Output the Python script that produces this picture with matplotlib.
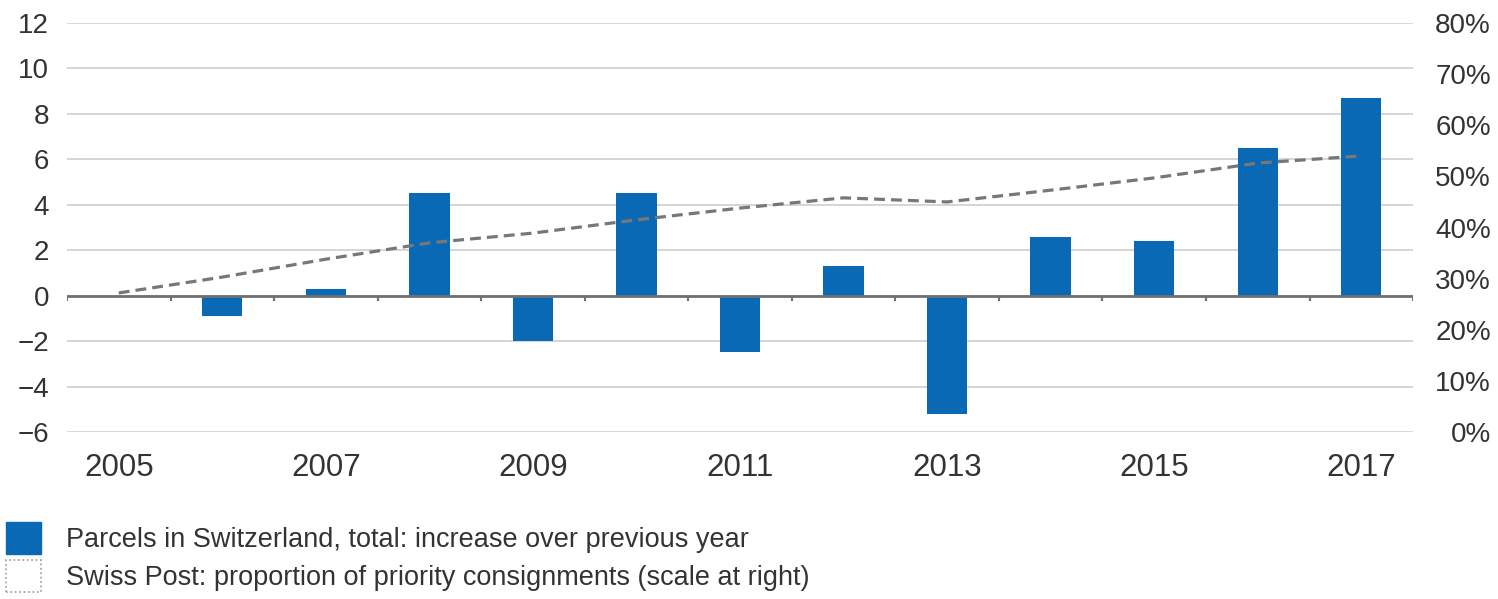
import matplotlib.pyplot as plt
from matplotlib.patches import Patch

years = [2005, 2006, 2007, 2008, 2009, 2010, 2011, 2012, 2013, 2014, 2015, 2016, 2017]
parcel_growth = [0.0, -0.9, 0.3, 4.5, -2.0, 4.5, -2.5, 1.3, -5.2, 2.6, 2.4, 6.5, 8.7]
priority_share = [27.2, 30.3, 33.8, 37.0, 38.9, 41.5, 43.8, 45.8, 45.0, 47.3, 49.7, 52.6, 54.0]
year_labels = [2005, 2007, 2009, 2011, 2013, 2015, 2017]
left_ticks = [-6, -4, -2, 0, 2, 4, 6, 8, 10, 12]
right_ticks = [0, 10, 20, 30, 40, 50, 60, 70, 80]

bar_label = 'Parcels in Switzerland, total: increase over previous year'
line_label = 'Swiss Post: proportion of priority consignments (scale at right)'

plt.rcParams['font.family'] = ['Liberation Sans', 'DejaVu Sans']
text_color = '#333333'
blue = '#0a69b5'

fig = plt.figure(figsize=(14.98, 5.99), dpi=100)
ax = fig.add_axes([0.0447, 0.2788, 0.8986, 0.6828])

ax.bar(years, parcel_growth, width=0.39, color=blue, zorder=3)
ax.set_xlim(years[0] - 0.5, years[-1] + 0.5)
ax.set_ylim(-6, 12)
ax.set_yticks(left_ticks)
ax.set_yticklabels([str(v).replace('-', '\u2212') for v in left_ticks])
ax.set_xticks(year_labels)
ax.set_xticklabels([str(y) for y in year_labels])
ax.tick_params(axis='y', length=0, pad=13, labelsize=20, labelcolor=text_color)
ax.tick_params(axis='x', length=0, pad=15, labelsize=22.5, labelcolor=text_color)
ax.grid(axis='y', color='#d2d2d2', linewidth=1.3, zorder=0)
for s in ax.spines.values():
    s.set_visible(False)

# zero line with small ticks at the category boundaries
ax.axhline(0, color='#707070', linewidth=2, zorder=4)
bounds = [y - 0.5 for y in years] + [years[-1] + 0.5]
ax.vlines(bounds, -0.22, 0, color='#707070', linewidth=1.5, zorder=4)

ax2 = ax.twinx()
ax2.plot(years, priority_share, color='#777777', linewidth=2.3,
         linestyle=(0, (3.4, 1.9)), zorder=5)
ax2.set_ylim(0, 80)
ax2.set_yticks(right_ticks)
ax2.set_yticklabels([f'{v}%' for v in right_ticks])
for lab in ax2.get_yticklabels():
    lab.set_horizontalalignment('right')
ax2.tick_params(axis='y', length=0, pad=56, labelsize=20, labelcolor=text_color)
for s in ax2.spines.values():
    s.set_visible(False)

handles = [
    Patch(facecolor=blue, edgecolor=blue),
    Patch(facecolor='white', edgecolor='#999999', linestyle=':', linewidth=1.2),
]
fig.legend(handles, [bar_label, line_label], loc='upper left',
           bbox_to_anchor=(0.004, 0.128), frameon=False, fontsize=19.5,
           handlelength=1.3, handleheight=1.45, handletextpad=0.9,
           labelspacing=0.2, borderaxespad=0, borderpad=0,
           labelcolor=text_color)

plt.savefig('out.png', dpi=100)
